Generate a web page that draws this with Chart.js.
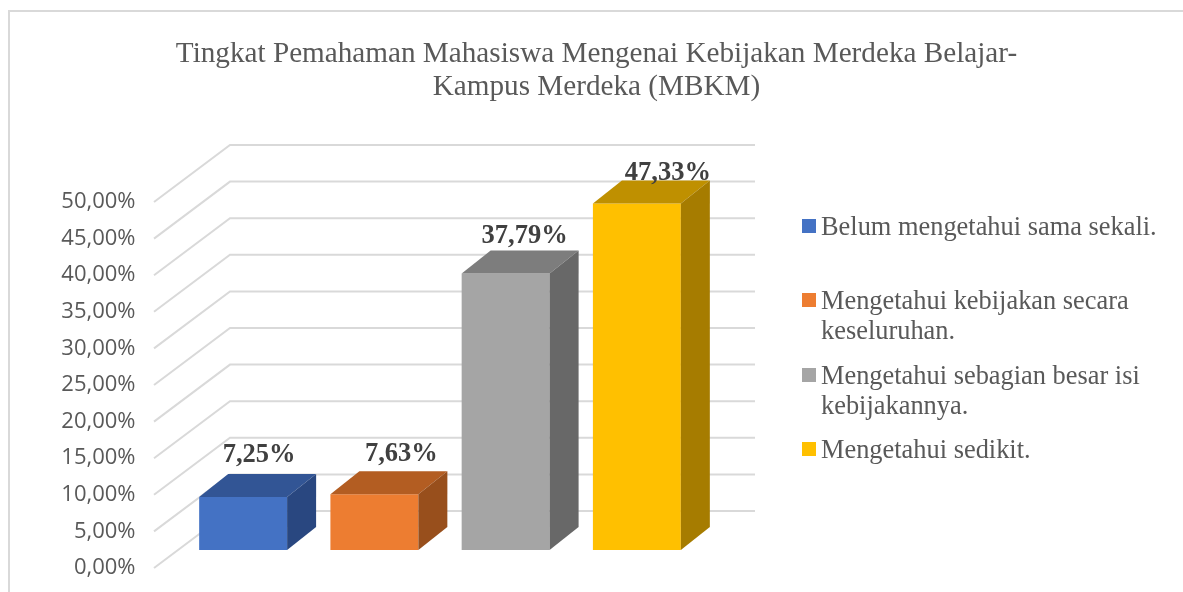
<!DOCTYPE html>
<html>
<head>
<meta charset="utf-8">
<style>html,body{margin:0;padding:0;background:#fff;overflow:hidden}canvas{display:block}</style>
<script src="https://cdn.jsdelivr.net/npm/chart.js@4"></script>
</head>
<body>
<canvas id="c" width="1183" height="592"></canvas>
<script>
const titleLines = ['Tingkat Pemahaman Mahasiswa Mengenai Kebijakan Merdeka Belajar-', 'Kampus Merdeka (MBKM)'];
const categories = ['Belum mengetahui sama sekali.', 'Mengetahui kebijakan secara keseluruhan.', 'Mengetahui sebagian besar isi kebijakannya.', 'Mengetahui sedikit.'];
const legendLines = [['Belum mengetahui sama sekali.'], ['Mengetahui kebijakan secara', 'keseluruhan.'], ['Mengetahui sebagian besar isi', 'kebijakannya.'], ['Mengetahui sedikit.']];
const values = [7.25, 7.63, 37.79, 47.33];
const frontColors = ['#4472C4', '#ED7D31', '#A5A5A5', '#FFC000'];
const topColors = ['#325595', '#B35D22', '#7D7D7D', '#BF9000'];
const sideColors = ['#294780', '#984F1C', '#686868', '#A67C00'];

const fmt = v => v.toFixed(2).replace('.', ',') + '%';
const GRID = '#D9D9D9', TEXT = '#595959', SERIF = '"Liberation Serif", serif';
const depth = {x: 29, y: 23};
const wall = {x: 76, y: 57, drop: 18, right: 755};
const labelNudge = [{x: 16, y: -35}, {x: 27, y: -33}, {x: 19, y: -30}, {x: 31, y: -24}];
const legendLayout = {box: 14, boxX: 802, textX: 821, textDrop: 2, rows: [233, 307, 382, 456], lineHeight: 29.5};

const threeD = {
  id: 'threeD',
  beforeDraw(chart) {
    const c = chart.ctx;
    c.save();
    c.strokeStyle = '#D9D9D9';
    c.lineWidth = 2;
    c.beginPath();
    c.moveTo(9, 592); c.lineTo(9, 11); c.lineTo(1183, 11);
    c.stroke();
    c.restore();
  },
  beforeDatasetsDraw(chart) {
    const c = chart.ctx, ys = chart.scales.y, a = chart.chartArea;
    const frontX = a.left - 23.5;
    c.save();
    c.strokeStyle = GRID;
    c.lineWidth = 2;
    ys.ticks.forEach(t => {
      const y = ys.getPixelForValue(t.value) + wall.drop;
      c.beginPath();
      c.moveTo(frontX, y);
      c.lineTo(frontX + wall.x, y - wall.y);
      c.lineTo(wall.right, y - wall.y);
      c.stroke();
    });
    c.restore();
  },
  afterDatasetsDraw(chart) {
    const c = chart.ctx, bars = chart.getDatasetMeta(0).data;
    c.save();
    bars.forEach((b, i) => {
      const l = b.x - b.width / 2, r = b.x + b.width / 2;
      c.fillStyle = topColors[i];
      c.beginPath();
      c.moveTo(l, b.y); c.lineTo(l + depth.x, b.y - depth.y); c.lineTo(r + depth.x, b.y - depth.y); c.lineTo(r, b.y);
      c.closePath(); c.fill();
      c.fillStyle = sideColors[i];
      c.beginPath();
      c.moveTo(r, b.y); c.lineTo(r + depth.x, b.y - depth.y); c.lineTo(r + depth.x, b.base - depth.y); c.lineTo(r, b.base);
      c.closePath(); c.fill();
    });
    c.font = 'bold 26.5px ' + SERIF;
    c.fillStyle = '#404040';
    c.textAlign = 'center';
    c.textBaseline = 'alphabetic';
    bars.forEach((b, i) => {
      c.fillText(fmt(values[i]), b.x + labelNudge[i].x, b.y + labelNudge[i].y);
    });
    c.font = '26.4px ' + SERIF;
    c.textAlign = 'left';
    legendLines.forEach((lines, i) => {
      const base = legendLayout.rows[i];
      c.fillStyle = frontColors[i];
      c.fillRect(legendLayout.boxX, base - legendLayout.box, legendLayout.box, legendLayout.box);
      c.fillStyle = TEXT;
      lines.forEach((t, j) => c.fillText(t, legendLayout.textX, base + legendLayout.textDrop + j * legendLayout.lineHeight));
    });
    c.restore();
  }
};

new Chart(document.getElementById('c'), {
  type: 'bar',
  data: {
    labels: categories,
    datasets: [{data: values, backgroundColor: frontColors, barPercentage: 0.67, categoryPercentage: 1, borderWidth: 0}]
  },
  plugins: [threeD],
  options: {
    responsive: false,
    animation: false,
    layout: {padding: {left: 10, right: 0, top: 0, bottom: 42}},
    plugins: {
      legend: {display: false},
      tooltip: {enabled: false},
      title: {
        display: true,
        text: titleLines,
        color: TEXT,
        font: {family: SERIF, size: 29.2, weight: 'normal', lineHeight: 33 / 29.2},
        padding: {top: 37.5, bottom: 80.5}
      }
    },
    scales: {
      x: {display: false},
      y: {
        min: 0, max: 50,
        afterFit(s) { s.width = 167.5; s.paddingTop = 0; s.paddingBottom = 0; },
        grid: {display: false},
        border: {display: false},
        ticks: {
          stepSize: 5,
          padding: 34,
          labelOffset: 18,
          color: TEXT,
          font: {family: '"Open Sans"', size: 22},
          callback: v => fmt(v)
        }
      },
      y2: {
        display: true,
        position: 'right',
        afterFit(s) { s.width = 480.5; },
        grid: {display: false},
        border: {display: false},
        ticks: {display: false}
      }
    }
  }
});
</script>
</body>
</html>
